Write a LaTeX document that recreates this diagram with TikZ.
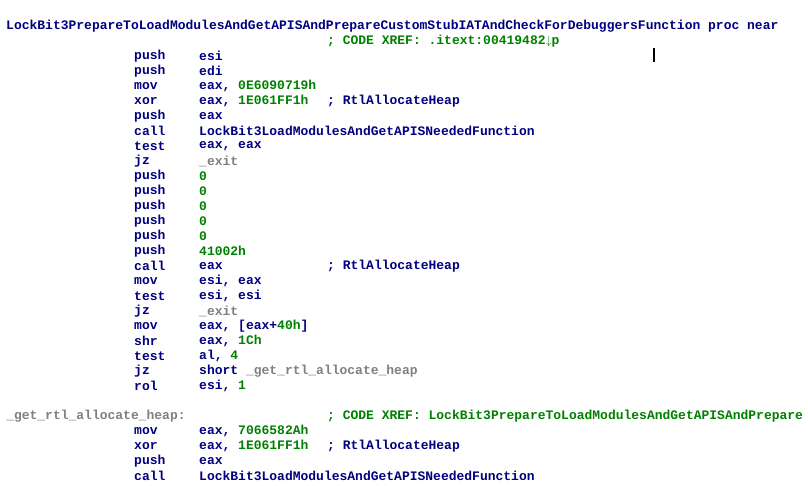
\documentclass[tikz,border=0pt]{standalone}
\usepackage{fontspec}
\setmonofont{Liberation Mono}
\definecolor{idablue}{RGB}{0,0,128}
\definecolor{idagreen}{RGB}{0,128,0}
\definecolor{idagray}{RGB}{128,128,128}
\newcommand{\num}[1]{\textcolor{idagreen}{#1}}
\newcommand{\loc}[1]{\textcolor{idagray}{#1}}
\tikzset{
  asm/.style={anchor=west,inner sep=0pt,font=\ttfamily\bfseries\fontsize{13}{13}\selectfont,text=idablue},
}
\begin{document}
\begin{tikzpicture}[x=1pt,y=-1pt]
  \useasboundingbox[fill=white] (0,0) rectangle (808,486);

  % procedure header
  \node[asm] (proc) at (6,26) {LockBit3PrepareToLoadModulesAndGetAPISAndPrepareCustomStubIATAndCheckForDebuggersFunction proc near};
  \node[asm,text=idagreen] (xref1) at (327,41) {; CODE XREF: .itext:00419482$\downarrow$p};
  \fill[black] (653,48) rectangle (655,62);

  % instructions: row/mnemonic/operands
  \foreach \r/\m/\o in {
      2/push/esi,
      3/push/edi,
      4/mov/{eax, \num{0E6090719h}},
      5/xor/{eax, \num{1E061FF1h}},
      6/push/eax,
      7/call/LockBit3LoadModulesAndGetAPISNeededFunction,
      8/test/{eax, eax},
      9/jz/\loc{\_exit},
      10/push/\num{0},
      11/push/\num{0},
      12/push/\num{0},
      13/push/\num{0},
      14/push/\num{0},
      15/push/\num{41002h},
      16/call/eax,
      17/mov/{esi, eax},
      18/test/{esi, esi},
      19/jz/\loc{\_exit},
      20/mov/{eax, [eax+\num{40h}]},
      21/shr/{eax, \num{1Ch}},
      22/test/{al, \num{4}},
      23/jz/{short \loc{\_get\_rtl\_allocate\_heap}},
      24/rol/{esi, \num{1}},
      27/mov/{eax, \num{7066582Ah}},
      28/xor/{eax, \num{1E061FF1h}},
      29/push/eax,
      30/call/LockBit3LoadModulesAndGetAPISNeededFunction} {
    \node[asm] (m\r) at (134,26+15*\r) {\m};
    \node[asm] (o\r) at (199,26+15*\r) {\o};
  }

  % comments
  \node[asm] (c5) at (327,101) {; RtlAllocateHeap};
  \node[asm] (c16) at (327,266) {; RtlAllocateHeap};
  \node[asm] (c28) at (327,446) {; RtlAllocateHeap};

  % local label
  \node[asm,text=idagray] (lbl) at (6,416) {\_get\_rtl\_allocate\_heap:};
  \node[asm,text=idagreen] (xref2) at (327,416) {; CODE XREF: LockBit3PrepareToLoadModulesAndGetAPISAndPrepare};
\end{tikzpicture}
\end{document}
